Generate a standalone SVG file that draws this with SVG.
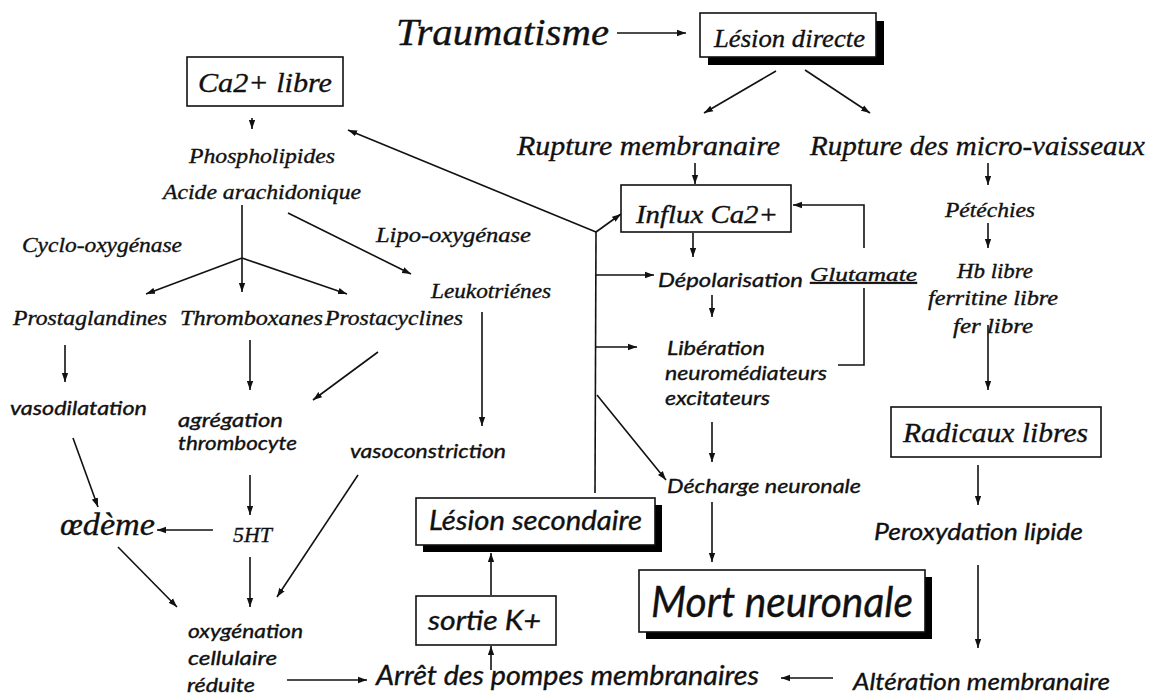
<svg xmlns="http://www.w3.org/2000/svg" width="1152" height="700" viewBox="0 0 1152 700">
<style>
text{fill:#111;font-style:italic;stroke:#111;stroke-width:0.35}
.s{font-family:"Liberation Serif","Times New Roman",serif}
.o{font-family:Lato,"Open Sans","Liberation Sans",sans-serif}
.box{fill:#fff;stroke:#111;stroke-width:1.6}
.sh{fill:#000}
.c line,.c polyline{stroke:#111;stroke-width:1.6;fill:none}
.a{marker-end:url(#ah)}
</style>
<defs>
<marker id="ah" viewBox="0 0 10 8" refX="10" refY="4" markerWidth="9" markerHeight="7.2" markerUnits="userSpaceOnUse" orient="auto">
<path d="M0,0.5 L10,4 L0,7.5 z" fill="#111"/>
</marker>
</defs>
<rect width="1152" height="700" fill="#fff"/>

<g class="c">
<line class="a" x1="617" y1="33" x2="686" y2="33"/>
<line class="a" x1="776" y1="71" x2="704" y2="113"/>
<line class="a" x1="805" y1="70" x2="870" y2="113"/>
<line class="a" x1="695" y1="163" x2="695" y2="184"/>
<line class="a" x1="693" y1="233" x2="693" y2="257"/>
<line class="a" x1="712" y1="295" x2="712" y2="317"/>
<line class="a" x1="712" y1="422" x2="712" y2="462"/>
<line class="a" x1="712" y1="502" x2="712" y2="562"/>
<polyline class="a" points="864,248 864,205 793,205"/>
<polyline points="864,288 864,365 838,365"/>
<line class="a" x1="988" y1="163" x2="988" y2="185"/>
<line class="a" x1="988" y1="223" x2="988" y2="248"/>
<line class="a" x1="988" y1="325" x2="988" y2="390"/>
<line class="a" x1="978" y1="465" x2="978" y2="505"/>
<line class="a" x1="978" y1="565" x2="978" y2="648"/>
<line class="a" x1="833" y1="678" x2="781" y2="678"/>
<line class="a" x1="287" y1="680" x2="367" y2="680"/>
<line class="a" x1="491" y1="670" x2="491" y2="646"/>
<line class="a" x1="491" y1="595" x2="491" y2="553"/>
<polyline points="595,493 596,232"/>
<line class="a" x1="596" y1="232" x2="348" y2="130"/>
<line class="a" x1="596" y1="232" x2="621" y2="214"/>
<line class="a" x1="596" y1="275" x2="654" y2="275"/>
<line class="a" x1="596" y1="347" x2="637" y2="347"/>
<line class="a" x1="597" y1="395" x2="666" y2="480"/>
<line class="a" x1="252" y1="118" x2="252" y2="129"/>
<line class="a" x1="242" y1="205" x2="242" y2="292"/>
<line class="a" x1="242" y1="258" x2="146" y2="294"/>
<line class="a" x1="242" y1="258" x2="347" y2="294"/>
<line class="a" x1="288" y1="213" x2="411" y2="274"/>
<line class="a" x1="65" y1="345" x2="65" y2="382"/>
<line class="a" x1="250" y1="340" x2="250" y2="390"/>
<line class="a" x1="378" y1="352" x2="313" y2="400"/>
<line class="a" x1="482" y1="312" x2="482" y2="426"/>
<line class="a" x1="73" y1="438" x2="98" y2="507"/>
<line class="a" x1="213" y1="530" x2="157" y2="530"/>
<line class="a" x1="250" y1="475" x2="250" y2="515"/>
<line class="a" x1="118" y1="547" x2="177" y2="607"/>
<line class="a" x1="250" y1="557" x2="250" y2="607"/>
<line class="a" x1="358" y1="475" x2="277" y2="597"/>
</g>

<g id="traumatisme"><text class="s" x="396" y="45" font-size="38" textLength="213" lengthAdjust="spacingAndGlyphs">Traumatisme</text></g>
<g id="lesion-directe">
<rect class="sh" x="708" y="21" width="176" height="44"/>
<rect class="box" x="700" y="13" width="176" height="44"/>
<text class="s" x="714" y="47" font-size="26" textLength="151" lengthAdjust="spacingAndGlyphs">Lésion directe</text>
</g>
<g id="rupture-membranaire"><text class="s" x="517" y="155" font-size="27" textLength="263" lengthAdjust="spacingAndGlyphs">Rupture membranaire</text></g>
<g id="rupture-vaisseaux"><text class="s" x="810" y="155" font-size="27" textLength="335" lengthAdjust="spacingAndGlyphs">Rupture des micro-vaisseaux</text></g>
<g id="influx">
<rect class="box" x="621" y="185" width="170" height="47"/>
<text class="s" x="636" y="223" font-size="26" textLength="142" lengthAdjust="spacingAndGlyphs">Influx Ca2+</text>
</g>
<g id="ca-libre">
<rect class="box" x="187" y="57" width="156" height="49"/>
<text class="s" x="198" y="92" font-size="27" textLength="134" lengthAdjust="spacingAndGlyphs">Ca2+ libre</text>
</g>
<g id="phospholipides"><text class="s" x="189" y="163" font-size="20" textLength="146" lengthAdjust="spacingAndGlyphs">Phospholipides</text></g>
<g id="acide"><text class="s" x="163" y="199" font-size="20" textLength="198" lengthAdjust="spacingAndGlyphs">Acide arachidonique</text></g>
<g id="cyclo"><text class="s" x="22" y="252" font-size="20" textLength="160" lengthAdjust="spacingAndGlyphs">Cyclo-oxygénase</text></g>
<g id="lipo"><text class="s" x="376" y="242" font-size="20" textLength="155" lengthAdjust="spacingAndGlyphs">Lipo-oxygénase</text></g>
<g id="leukotrienes"><text class="s" x="431" y="298" font-size="20" textLength="120" lengthAdjust="spacingAndGlyphs">Leukotriénes</text></g>
<g id="prostaglandines"><text class="s" x="13" y="325" font-size="20" textLength="154" lengthAdjust="spacingAndGlyphs">Prostaglandines</text></g>
<g id="thromboxanes"><text class="s" x="180" y="325" font-size="20" textLength="143" lengthAdjust="spacingAndGlyphs">Thromboxanes</text></g>
<g id="prostacyclines"><text class="s" x="325" y="325" font-size="20" textLength="138" lengthAdjust="spacingAndGlyphs">Prostacyclines</text></g>
<g id="petechies"><text class="s" x="945" y="217" font-size="20" textLength="90" lengthAdjust="spacingAndGlyphs">Pétéchies</text></g>
<g id="hb">
<text class="s" x="957" y="278" font-size="20" textLength="76" lengthAdjust="spacingAndGlyphs">Hb libre</text>
<text class="s" x="928" y="305" font-size="20" textLength="130" lengthAdjust="spacingAndGlyphs">ferritine libre</text>
<text class="s" x="953" y="333" font-size="20" textLength="80" lengthAdjust="spacingAndGlyphs">fer libre</text>
</g>
<g id="glutamate"><text class="s" x="810" y="281" font-size="19" textLength="107" lengthAdjust="spacingAndGlyphs" text-decoration="underline">Glutamate</text></g>
<g id="radicaux">
<rect class="box" x="891" y="407" width="210" height="50"/>
<text class="s" x="903" y="442" font-size="28" textLength="185" lengthAdjust="spacingAndGlyphs">Radicaux libres</text>
</g>
<g id="5ht"><text class="s" x="233" y="542" font-size="22" textLength="39" lengthAdjust="spacingAndGlyphs">5HT</text></g>
<g id="oedeme"><text class="s" x="60" y="535" font-size="32" textLength="95" lengthAdjust="spacingAndGlyphs">œdème</text></g>

<g id="depolarisation"><text class="o" x="658" y="287" font-size="20" textLength="145" lengthAdjust="spacingAndGlyphs">Dépolarisation</text></g>
<g id="liberation">
<text class="o" x="667" y="355" font-size="20" textLength="98" lengthAdjust="spacingAndGlyphs">Libération</text>
<text class="o" x="665" y="380" font-size="20" textLength="162" lengthAdjust="spacingAndGlyphs">neuromédiateurs</text>
<text class="o" x="665" y="405" font-size="20" textLength="105" lengthAdjust="spacingAndGlyphs">excitateurs</text>
</g>
<g id="decharge"><text class="o" x="667" y="493" font-size="20" textLength="194" lengthAdjust="spacingAndGlyphs">Décharge neuronale</text></g>
<g id="vasodilatation"><text class="o" x="10" y="415" font-size="19" textLength="137" lengthAdjust="spacingAndGlyphs">vasodilatation</text></g>
<g id="agregation">
<text class="o" x="178" y="427" font-size="19" textLength="105" lengthAdjust="spacingAndGlyphs">agrégation</text>
<text class="o" x="178" y="450" font-size="19" textLength="119" lengthAdjust="spacingAndGlyphs">thrombocyte</text>
</g>
<g id="vasoconstriction"><text class="o" x="350" y="458" font-size="19" textLength="156" lengthAdjust="spacingAndGlyphs">vasoconstriction</text></g>
<g id="oxygenation">
<text class="o" x="188" y="638" font-size="19" textLength="115" lengthAdjust="spacingAndGlyphs">oxygénation</text>
<text class="o" x="188" y="665" font-size="19" textLength="89" lengthAdjust="spacingAndGlyphs">cellulaire</text>
<text class="o" x="187" y="692" font-size="19" textLength="68" lengthAdjust="spacingAndGlyphs">réduite</text>
</g>
<g id="lesion-secondaire">
<rect class="sh" x="423" y="505" width="239" height="47"/>
<rect class="box" x="416" y="498" width="239" height="47"/>
<text class="o" x="429" y="530" font-size="27" textLength="213" lengthAdjust="spacingAndGlyphs">Lésion secondaire</text>
</g>
<g id="sortie-k">
<rect class="box" x="416" y="596" width="140" height="49"/>
<text class="o" x="428" y="630" font-size="27" textLength="113" lengthAdjust="spacingAndGlyphs">sortie K+</text>
</g>
<g id="mort-neuronale">
<rect class="sh" x="646" y="577" width="286" height="62"/>
<rect class="box" x="639" y="570" width="286" height="62"/>
<text class="o" x="651" y="617" font-size="42" textLength="262" lengthAdjust="spacingAndGlyphs">Mort neuronale</text>
</g>
<g id="arret"><text class="o" x="376" y="685" font-size="27" textLength="383" lengthAdjust="spacingAndGlyphs">Arrêt des pompes membranaires</text></g>
<g id="peroxydation"><text class="o" x="874" y="540" font-size="24" textLength="209" lengthAdjust="spacingAndGlyphs">Peroxydation lipide</text></g>
<g id="alteration"><text class="o" x="853" y="690" font-size="24" textLength="257" lengthAdjust="spacingAndGlyphs">Altération membranaire</text></g>
</svg>
